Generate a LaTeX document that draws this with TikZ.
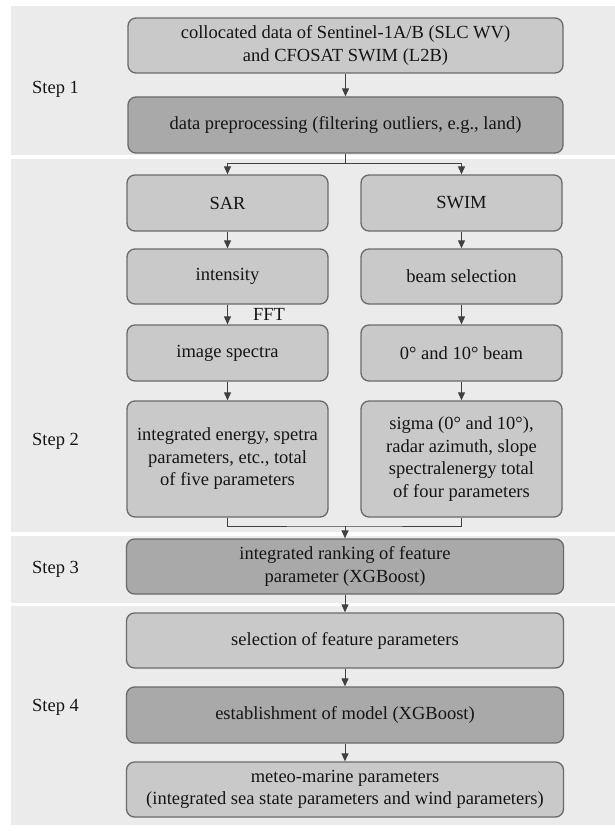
\documentclass[tikz,border=0pt]{standalone}
\usepackage{fontspec}
\setmainfont{Liberation Serif}
\usetikzlibrary{arrows.meta}
\definecolor{panelbg}{HTML}{EBEBEB}
\definecolor{lightbox}{HTML}{C9C9C9}
\definecolor{darkbox}{HTML}{A9A9A9}
\definecolor{boxline}{HTML}{6A6A6A}
\definecolor{txt}{HTML}{151515}
\definecolor{conn}{HTML}{404040}
\tikzset{
  panel/.style={fill=panelbg, draw=none},
  basebox/.style={draw=boxline, line width=1.3pt, rounded corners=8pt, inner sep=0pt,
    align=center, text=txt, font=\fontsize{18.5}{22.5}\selectfont},
  lbox/.style={basebox, fill=lightbox},
  dbox/.style={basebox, fill=darkbox},
  conline/.style={draw=conn, line width=1pt},
  arr/.style={conline, -{Triangle[length=8pt,width=7pt]}},
  steplabel/.style={anchor=west, text=txt, inner sep=0pt, font=\fontsize{18.5}{22}\selectfont},
  fftlabel/.style={text=txt, inner sep=0pt, font=\fontsize{18.5}{22}\selectfont}
}
\begin{document}
\begin{tikzpicture}[x=1pt,y=-1pt]
\useasboundingbox (0,0) rectangle (615,832);
\fill[white] (0,0) rectangle (615,832);
% panels
\fill[panel] (11,6) rectangle (615,155);
\fill[panel] (11,159) rectangle (615,532);
\fill[panel] (11,536) rectangle (615,603);
\fill[panel] (11,606) rectangle (615,825);
% step labels
\node[steplabel] (s1) at (32,89) {Step 1};
\node[steplabel] (s2) at (32,441) {Step 2};
\node[steplabel] (s3) at (32,569) {Step 3};
\node[steplabel] (s4) at (32,707) {Step 4};
% boxes
\node[lbox, minimum width=435pt, minimum height=55pt] (b1) at (345.5,45.5)
  {collocated data of Sentinel-1A/B (SLC WV)\\and CFOSAT SWIM (L2B)};
\node[dbox, minimum width=435pt, minimum height=56pt] (b2) at (345.5,125)
  {data preprocessing (filtering outliers, e.g., land)};
\node[lbox, minimum width=201pt, minimum height=56pt] (sar) at (227.5,203) {SAR};
\node[lbox, minimum width=201pt, minimum height=56pt] (swim) at (461.5,203) {SWIM};
\node[lbox, minimum width=201pt, minimum height=55pt] (int) at (227.5,276.5) {intensity};
\node[lbox, minimum width=201pt, minimum height=55pt] (beam) at (461.5,276.5) {beam selection};
\node[lbox, minimum width=201pt, minimum height=56pt] (spec) at (227.5,353) {image spectra};
\node[lbox, minimum width=201pt, minimum height=56pt] (deg) at (461.5,353) {0° and 10° beam};
\node[lbox, minimum width=201pt, minimum height=116pt] (bigL) at (227.5,459)
  {integrated energy, spetra\\parameters, etc., total\\of five parameters};
\node[lbox, minimum width=201pt, minimum height=116pt] (bigR) at (461.5,459)
  {sigma (0° and 10°),\\radar azimuth, slope\\spectralenergy total\\of four parameters};
\node[dbox, minimum width=437pt, minimum height=55pt] (rank) at (345,566.5)
  {integrated ranking of feature\\parameter (XGBoost)};
\node[lbox, minimum width=437pt, minimum height=55pt] (sel) at (345,640.5)
  {selection of feature parameters};
\node[dbox, minimum width=437pt, minimum height=56pt] (est) at (345,715)
  {establishment of model (XGBoost)};
\node[lbox, minimum width=437pt, minimum height=55pt] (met) at (345,789.5)
  {meteo-marine parameters\\(integrated sea state parameters and wind parameters)};
% connectors
\coordinate (split) at (345.5,163);
\coordinate (merge) at (345,526);
\draw[arr] (b1) -- (b2);
\draw[conline] (b2.south) -- (split);
\draw[arr] (split) -| (sar.north);
\draw[arr] (split) -| (swim.north);
\draw[arr] (sar) -- (int);
\draw[arr] (int) -- (spec);
\draw[arr] (spec) -- (bigL);
\draw[arr] (swim) -- (beam);
\draw[arr] (beam) -- (deg);
\draw[arr] (deg) -- (bigR);
\draw[conline] (bigL.south) |- (merge) -| (bigR.south);
\draw[arr] (merge) -- (rank.north);
\draw[arr] (rank) -- (sel);
\draw[arr] (sel) -- (est);
\draw[arr] (est) -- (met);
\node[fftlabel] (fft) at (269,314) {FFT};
\end{tikzpicture}
\end{document}
